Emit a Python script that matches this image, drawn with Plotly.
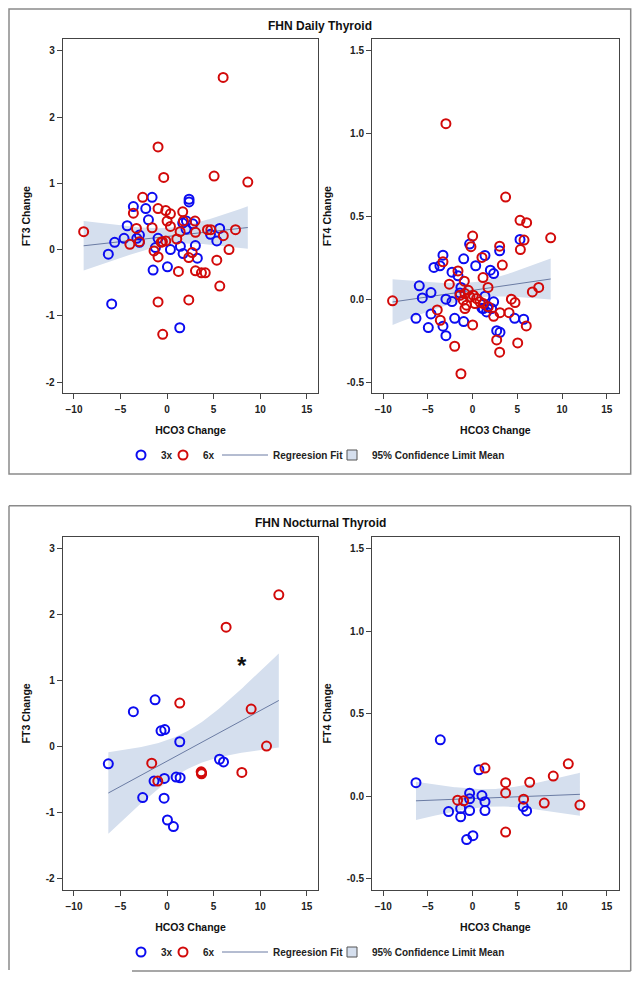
import numpy as np
import plotly.graph_objects as go

# page body has an 8px margin: the figure is drawn 8px right/down of the window origin
OFF = 8
W, H = 640 - OFF, 981 - OFF

# ---------------- data ----------------
# FHN Daily Thyroid : FT3 change vs HCO3 change
daily_ft3_3x_x = [-6.31, -5.95, -5.63, -4.62, -4.28, -3.62, -3.25, -2.97, -2.97, -2.29, -2.0, -1.61,
                  -0.97, -1.25, -1.5, 0.04, 0.36, 1.43, 1.72, 2.36, 2.36, 2.08, 2.04, 1.68, 3.04,
                  3.25, 5.65, 4.66, 5.34, 1.36, 2.76]
daily_ft3_3x_y = [-0.07, -0.82, 0.11, 0.17, 0.36, 0.65, 0.17, 0.22, 0.11, 0.62, 0.45, 0.79,
                  0.17, 0.03, -0.31, -0.26, 0.0, 0.05, -0.06, 0.76, 0.72, 0.43, 0.31, 0.40, 0.06,
                  -0.13, 0.32, 0.23, 0.13, -1.18, 0.39]
daily_ft3_6x_x = [-8.96, -3.62, -2.62, -3.29, -4.0, -2.97, -1.61, -0.97, -0.36, -0.97, -0.14, 0.36,
                  0.0, 0.36, -0.5, -0.14, -0.64, 1.04, 1.40, 1.68, 1.75, 3.0, 3.05, 4.34, 4.70,
                  5.05, 6.02, 6.04, 7.35, 8.67, 6.65, 5.34, 2.69, 2.33, -1.40, -0.97, 1.22, 3.05,
                  3.69, 4.10, 5.66, -0.97, 2.33, -0.47]
daily_ft3_6x_y = [0.27, 0.55, 0.79, 0.32, 0.08, 0.12, 0.33, 1.55, 1.09, 0.62, 0.59, 0.54,
                  0.43, 0.35, 0.12, 0.13, 0.11, 0.16, 0.27, 0.57, 0.43, 0.43, 0.26, 0.30, 0.30,
                  1.11, 2.60, 0.21, 0.30, 1.02, 0.0, -0.16, -0.045, -0.12, -0.02, -0.11, -0.33, -0.32,
                  -0.35, -0.35, -0.55, -0.79, -0.76, -1.28]

# FHN Daily Thyroid : FT4 change vs HCO3 change
daily_ft4_3x_x = [-6.34, -5.97, -5.63, -4.96, -4.66, -4.66, -4.33, -3.66, -3.32, -3.32, -2.99, -2.99,
                  -2.31, -2.31, -1.64, -2.01, -1.0, -1.0, -0.34, 0.34, 1.38, 1.98, 2.35, 3.02,
                  1.38, 2.35, 1.04, 1.68, 2.69, 3.06, 4.70, 5.71, 5.30, -1.31, -1.42, 1.19, 1.56, 2.12]
daily_ft4_3x_y = [-0.115, 0.081, 0.008, -0.171, 0.04, -0.089, 0.192, 0.202, 0.266, -0.163, -0.22, 0.0,
                  -0.014, 0.163, 0.141, -0.115, -0.135, 0.244, 0.333, 0.202, 0.264, 0.175, 0.155, 0.292,
                  0.018, -0.016, -0.054, -0.046, -0.19, -0.2, -0.115, -0.121, 0.361, 0.071, 0.038,
                  -0.056, -0.077, -0.056]
daily_ft4_6x_x = [-2.99, 3.69, 5.30, 6.04, 8.73, 0.0, -0.19, 3.02, 5.34, 5.75, 3.32, 1.04, -3.32,
                  -1.64, 1.16, 1.72, -2.61, -0.93, 7.39, 6.68, -8.96, 4.33, 4.74, -3.96, -3.62, 3.06,
                  4.07, 2.35, 6.0, 0.0, 2.69, 5.04, 3.02, -2.01, -1.31, -1.42, -0.86, -0.49, -0.30,
                  -1.05, 0.07, 0.44, -0.68, 0.26, 1.19, -0.86, 0.82, 1.75]
daily_ft4_6x_y = [1.06, 0.617, 0.476, 0.462, 0.371, 0.381, 0.317, 0.32, 0.30, 0.357, 0.206, 0.252, 0.226,
                  0.171, 0.131, 0.071, 0.091, 0.109, 0.071, 0.044, -0.01, 0.0, -0.02, -0.065, -0.127, -0.081,
                  -0.081, -0.103, -0.161, -0.155, -0.246, -0.264, -0.32, -0.284, -0.45, 0.024, 0.034, 0.054,
                  0.014, -0.006, 0.024, 0.004, -0.036, -0.026, -0.026, -0.056, -0.016, -0.046]

# FHN Nocturnal Thyroid : FT3 change vs HCO3 change
noct_ft3_3x_x = [-6.31, -3.62, -1.29, -0.65, -0.25, 1.36, -1.40, -0.29, 0.97, 1.40, -2.62, -0.32,
                 0.04, 0.68, 5.63, 6.06]
noct_ft3_3x_y = [-0.26, 0.53, 0.71, 0.24, 0.26, 0.075, -0.52, -0.48, -0.46, -0.47, -0.77, -0.78,
                 -1.11, -1.21, -0.19, -0.23]
noct_ft3_6x_x = [-1.65, -1.0, 1.36, 3.66, 3.70, 3.70, 6.34, 8.03, 9.03, 10.68, 12.0]
noct_ft3_6x_y = [-0.25, -0.52, 0.66, -0.38, -0.40, -0.41, 1.81, -0.39, 0.57, 0.01, 2.30]

# FHN Nocturnal Thyroid : FT4 change vs HCO3 change
noct_ft4_3x_x = [-6.34, -3.62, 0.70, -2.69, -1.34, -1.34, -0.34, -0.34, -0.34, 1.04, 1.38, 1.38,
                 -0.67, 0.03, 5.66, 6.04]
noct_ft4_3x_y = [0.082, 0.341, 0.16, -0.093, -0.075, -0.125, 0.018, -0.016, -0.087, 0.004, -0.033,
                 -0.087, -0.263, -0.239, -0.063, -0.089]
noct_ft4_6x_x = [-1.68, -1.01, 1.38, 3.69, 3.69, 3.69, 5.70, 6.38, 8.01, 9.02, 10.7, 12.0]
noct_ft4_6x_y = [-0.024, -0.028, 0.17, 0.082, 0.02, -0.217, -0.018, 0.084, -0.042, 0.122, 0.196, -0.054]

x_ticks = [-10, -5, 0, 5, 10, 15]
ft3_ticks = [-2, -1, 0, 1, 2, 3]
ft4_ticks = [-0.5, 0.0, 0.5, 1.0, 1.5]
ft4_tick_labels = ["-0.5", "0.0", "0.5", "1.0", "1.5"]

group_names = ["3x", "6x"]
fit_name = "Regreesion Fit"
band_name = "95% Confidence Limit Mean"
titles = ["FHN Daily Thyroid", "FHN Nocturnal Thyroid"]

# ---------------- styles ----------------
BLUE = "#0c0cf0"
RED = "#d20a0a"
BAND = "#d5dfee"
FIT = "#6a7ba3"
FRAME = "#444444"
FONT = "Liberation Sans, Arial, sans-serif"


def px_x(p):
    """reference-window pixel -> paper fraction"""
    return (p - OFF) / W


def px_y(p):
    return 1 - (p - OFF) / H


def fit_band(xs, ys):
    x = np.asarray(xs, float)
    y = np.asarray(ys, float)
    n = len(x)
    xb, yb = x.mean(), y.mean()
    sxx = ((x - xb) ** 2).sum()
    b = ((x - xb) * (y - yb)).sum() / sxx
    a = yb - b * xb
    s = np.sqrt(((y - (a + b * x)) ** 2).sum() / (n - 2))
    nu = n - 2
    z = 1.959964
    t = (z + (z ** 3 + z) / (4 * nu) + (5 * z ** 5 + 16 * z ** 3 + 3 * z) / (96 * nu ** 2)
         + (3 * z ** 7 + 19 * z ** 5 + 17 * z ** 3 - 15 * z) / (384 * nu ** 3))
    g = np.linspace(x.min(), x.max(), 120)
    yh = a + b * g
    hw = t * s * np.sqrt(1.0 / n + (g - xb) ** 2 / sxx)
    return g, yh, yh - hw, yh + hw


fig = go.Figure()

panels = [
    # (x3, y3, x6, y6, axis suffix, legend ids or None)
    (daily_ft3_3x_x, daily_ft3_3x_y, daily_ft3_6x_x, daily_ft3_6x_y, "",
     ["legend", "legend2", "legend3", "legend4"]),
    (daily_ft4_3x_x, daily_ft4_3x_y, daily_ft4_6x_x, daily_ft4_6x_y, "2", None),
    (noct_ft3_3x_x, noct_ft3_3x_y, noct_ft3_6x_x, noct_ft3_6x_y, "3",
     ["legend5", "legend6", "legend7", "legend8"]),
    (noct_ft4_3x_x, noct_ft4_3x_y, noct_ft4_6x_x, noct_ft4_6x_y, "4", None),
]

for x3, y3, x6, y6, sfx, legs in panels:
    xa, ya = "x" + sfx, "y" + sfx
    show = legs is not None
    lg = legs if show else ["legend"] * 4
    g, yh, lo, hi = fit_band(list(x3) + list(x6), list(y3) + list(y6))
    fig.add_trace(go.Scatter(x=np.concatenate([g, g[::-1]]), y=np.concatenate([hi, lo[::-1]]),
                             fill="toself", fillcolor=BAND, line=dict(width=0), mode="lines",
                             xaxis=xa, yaxis=ya, showlegend=False, hoverinfo="skip"))
    fig.add_trace(go.Scatter(x=g, y=yh, mode="lines", line=dict(color=FIT, width=1),
                             name=fit_name, xaxis=xa, yaxis=ya, legend=lg[2], showlegend=show))
    fig.add_trace(go.Scatter(x=x3, y=y3, mode="markers", name=group_names[0],
                             marker=dict(symbol="circle-open", size=9, color=BLUE, line=dict(width=2)),
                             xaxis=xa, yaxis=ya, legend=lg[0], showlegend=show))
    fig.add_trace(go.Scatter(x=x6, y=y6, mode="markers", name=group_names[1],
                             marker=dict(symbol="circle-open", size=9, color=RED, line=dict(width=2)),
                             xaxis=xa, yaxis=ya, legend=lg[1], showlegend=show))
    if show:
        fig.add_trace(go.Scatter(x=[None], y=[None], mode="markers", name=band_name,
                                 marker=dict(symbol="square", size=10, color=BAND,
                                             line=dict(color="#555555", width=1)),
                                 xaxis=xa, yaxis=ya, legend=lg[3], showlegend=True))

left_dom = [px_x(62.7), px_x(318.3)]
right_dom = [px_x(372), px_x(618.7)]
top_dom = [px_y(393.3), px_y(39)]
bot_dom = [px_y(890), px_y(536.7)]

tickfont = dict(family=FONT, size=10, color="#222222", weight="bold")
titlefont = dict(family=FONT, size=10.5, color="#111111", weight="bold")


def xaxis(dom, anchor, rng):
    return dict(domain=dom, anchor=anchor, range=rng, tickvals=x_ticks, showline=True, mirror=True,
                linecolor=FRAME, linewidth=1, ticks="outside", ticklen=5, tickcolor=FRAME,
                tickfont=tickfont, ticklabelstandoff=2, showgrid=False, zeroline=False,
                title=dict(text="HCO3 Change", font=titlefont, standoff=12))


def yaxis(dom, anchor, rng, tv, tt, title):
    return dict(domain=dom, anchor=anchor, range=rng, tickvals=tv, ticktext=tt, showline=True,
                mirror=True, linecolor=FRAME, linewidth=1, ticks="outside", ticklen=5,
                tickcolor=FRAME, tickfont=tickfont, showgrid=False, zeroline=False,
                title=dict(text=title, font=titlefont, standoff=13))


ft3_rng = [-2.17, 3.18]
ft4_rng = [-0.568, 1.571]
xl_rng = [-11.21, 16.24]
xr_rng = [-11.26, 16.34]

legfont = dict(family=FONT, size=10, color="#222222", weight="bold")


def legend_at(left_px, y_px, itemwidth=30):
    return dict(orientation="h", x=px_x(left_px), xanchor="left", y=px_y(y_px), yanchor="middle",
                font=legfont, bgcolor="rgba(0,0,0,0)", itemwidth=itemwidth, borderwidth=0)


# legend item symbol positions (reference px): symbol centre x = left + 20
leg_lefts = [121, 163, 217, 332]
leg_widths = [30, 30, 46, 30]
legends = {}
for k, yp in [(0, 455), (4, 952)]:
    for i in range(4):
        name = "legend" if (k + i) == 0 else "legend%d" % (k + i + 1)
        legends[name] = legend_at(leg_lefts[i], yp, leg_widths[i])

fig.update_layout(
    width=W, height=H, margin=dict(l=0, r=0, t=0, b=0, autoexpand=False),
    paper_bgcolor="white", plot_bgcolor="white",
    xaxis=xaxis(left_dom, "y", xl_rng),
    yaxis=yaxis(top_dom, "x", ft3_rng, ft3_ticks, [str(v) for v in ft3_ticks], "FT3 Change"),
    xaxis2=xaxis(right_dom, "y2", xr_rng),
    yaxis2=yaxis(top_dom, "x2", ft4_rng, ft4_ticks, ft4_tick_labels, "FT4 Change"),
    xaxis3=xaxis(left_dom, "y3", xl_rng),
    yaxis3=yaxis(bot_dom, "x3", ft3_rng, ft3_ticks, [str(v) for v in ft3_ticks], "FT3 Change"),
    xaxis4=xaxis(right_dom, "y4", xr_rng),
    yaxis4=yaxis(bot_dom, "x4", ft4_rng, ft4_ticks, ft4_tick_labels, "FT4 Change"),
    showlegend=True,
    **legends,
)

# panel titles
for title, yp in zip(titles, [26, 523.3]):
    fig.add_annotation(text=title, x=px_x(320), y=px_y(yp), xref="paper", yref="paper",
                       showarrow=False, xanchor="center", yanchor="middle",
                       font=dict(family=FONT, size=12, color="#111111", weight="bold"))

# significance marker
fig.add_annotation(text="*", x=8.0, y=1.28, xref="x3", yref="y3", showarrow=False,
                   xanchor="center", yanchor="middle", yshift=-3,
                   font=dict(family=FONT, size=24, color="#111111", weight="bold"))

# outer panel borders
BORDER = dict(color="#8a8a8a", width=1.5)
fig.add_shape(type="rect", xref="paper", yref="paper", x0=px_x(9), x1=px_x(630.7),
              y0=px_y(474), y1=px_y(9), line=BORDER)
for (x0, y0, x1, y1) in [(9, 505.7, 630.7, 505.7), (9, 505.7, 9, 970), (630.7, 505.7, 630.7, 971),
                         (132, 971, 630.7, 971)]:
    fig.add_shape(type="line", xref="paper", yref="paper", x0=px_x(x0), y0=px_y(y0),
                  x1=px_x(x1), y1=px_y(y1), line=BORDER)

fig.write_html("out.html")
